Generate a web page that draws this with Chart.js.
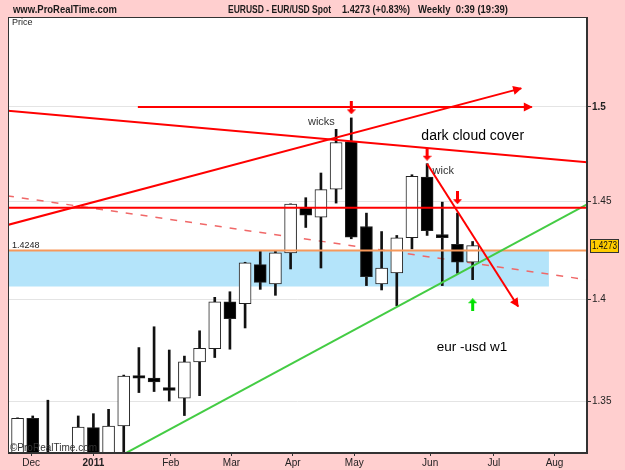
<!DOCTYPE html>
<html>
<head>
<meta charset="utf-8">
<script src="https://cdn.jsdelivr.net/npm/chart.js@4.4.1/dist/chart.umd.min.js"></script>
<style>
  html, body { margin: 0; padding: 0; background: #ffcfcf; }
  #wrap { width: 625px; height: 470px; }
</style>
</head>
<body>
<div id="wrap"><canvas id="chart" width="625" height="470"></canvas></div>
<script>
// weekly EUR/USD candles (index 0 = first week shown)
const opens  = [1.3000, 1.3417, 1.3180, 1.3100, 1.2900, 1.3372, 1.3100, 1.3380, 1.3624, 1.3611, 1.3565,
                1.3514, 1.3691, 1.3755, 1.3988, 1.3979, 1.4176, 1.4078, 1.4236, 1.4468, 1.4419,
                1.4564, 1.4813, 1.4371, 1.4078, 1.4134, 1.4313, 1.4628, 1.4330, 1.4279, 1.4188];
const highs  = [1.3419, 1.3428, 1.3504, 1.3200, 1.3428, 1.3439, 1.3460, 1.3626, 1.3761, 1.3864, 1.3749,
                1.3719, 1.3844, 1.4011, 1.4039, 1.4188, 1.4244, 1.4244, 1.4488, 1.4520, 1.4649,
                1.4880, 1.4941, 1.4440, 1.4345, 1.4325, 1.4640, 1.4698, 1.4497, 1.4440, 1.4294];
const lows   = [1.2950, 1.3050, 1.3000, 1.2860, 1.2850, 1.3000, 1.3000, 1.3100, 1.3541, 1.3546, 1.3500,
                1.3430, 1.3526, 1.3712, 1.3753, 1.3858, 1.4051, 1.4021, 1.4154, 1.4366, 1.4159,
                1.4492, 1.4308, 1.4070, 1.4048, 1.3969, 1.4256, 1.4325, 1.4070, 1.4132, 1.4100];
const closes = [1.3417, 1.3180, 1.3100, 1.2900, 1.3375, 1.3100, 1.3380, 1.3621, 1.3611, 1.3593, 1.3552,
                1.3691, 1.3757, 1.3988, 1.3904, 1.4185, 1.4086, 1.4236, 1.4487, 1.4429, 1.4562,
                1.4810, 1.4316, 1.4115, 1.4159, 1.4313, 1.4631, 1.4350, 1.4313, 1.4188, 1.4273];

// axis ticks
const monthLabels = ['Dec', '2011', 'Feb', 'Mar', 'Apr', 'May', 'Jun', 'Jul', 'Aug'];
const monthPos    = [0.9, 5.0, 10.1, 14.1, 18.15, 22.2, 27.2, 31.4, 35.4];
const priceTicks  = [1.35, 1.4, 1.45, 1.5];

// hand drawn lines, [week index, price]
const upperFan    = [[-0.7, 1.4980], [37.7, 1.4705]];
const risingArrow = [[-0.7, 1.4378], [33.2, 1.5100]];
const topArrow    = [[7.93, 1.5000], [33.9, 1.5000]];
const resistance  = [[-0.7, 1.4468], [37.7, 1.4468]];
const dashedTrend = [[-0.7, 1.4530], [37.7, 1.4098]];
const support     = [[7.07, 1.3248], [37.7, 1.4492]];
const cloudArrow  = [[27.0, 1.4698], [33.0, 1.3965]];
const pivotLevel  = 1.4248;
const zoneLow     = 1.4066;
const zoneEnd     = 35.03;

// little marker arrows
const downMarks = [[22, 1.4995], [27, 1.4748], [29, 1.4520]];
const upMarks   = [[30, 1.3974]];

// notes written on the chart
const noteText = ['wicks', 'dark cloud cover', 'wick', 'eur -usd w1'];
const noteX    = [20.03, 26.62, 27.36, 27.63];
const noteY    = [1.4918, 1.4843, 1.4659, 1.3762];

const FONT = '"Liberation Sans", Arial, sans-serif';
const pts = arr => arr.map(p => ({ x: p[0], y: p[1] }));

function makeArrow(color, up) {
  const c = document.createElement('canvas');
  c.width = 9; c.height = 13;
  const g = c.getContext('2d');
  if (up) { g.translate(0, 13); g.scale(1, -1); }
  g.fillStyle = color;
  g.fillRect(3, 0, 3, 8.5);
  g.beginPath();
  g.moveTo(0, 8); g.lineTo(9, 8); g.lineTo(4.5, 13); g.closePath();
  g.fill();
  return c;
}

const bodies = opens.map((o, i) => ({ x: i, y: [o, closes[i]] }));
const wicks = opens.map((o, i) => ({ x: i, y: [lows[i], highs[i]] }));
const bodyColors = opens.map((o, i) => closes[i] >= o ? '#ffffff' : '#000000');

function line(data, color, width, order, extra) {
  return Object.assign({
    type: 'line', data: pts(data), borderColor: color, borderWidth: width,
    pointRadius: 0, fill: false, order: order, clip: 0, tension: 0
  }, extra || {});
}

const decor = {
  id: 'decor',
  beforeDraw(chart) {
    const { ctx, chartArea: a } = chart;
    ctx.save();
    ctx.fillStyle = '#ffcfcf';
    ctx.fillRect(0, 0, chart.width, chart.height);
    ctx.fillStyle = '#ffffff';
    ctx.fillRect(a.left, a.top, a.right - a.left, a.bottom - a.top);

    ctx.fillStyle = '#1a1a1a';
    ctx.textBaseline = 'middle';
    ctx.font = 'bold 11px ' + FONT;
    ctx.fillText('www.ProRealTime.com', 13, 10, 104);
    ctx.fillText('EURUSD - EUR/USD Spot', 228, 10, 103);
    ctx.fillText('1.4273 (+0.83%)', 342, 10, 68);
    ctx.fillText('Weekly  0:39 (19:39)', 418, 10, 90);

    ctx.font = '9px ' + FONT;
    ctx.fillStyle = '#222';
    ctx.fillText('Price', a.left + 4, a.top + 6);
    ctx.restore();
  },
  afterDatasetsDraw(chart) {
    const { ctx, chartArea: a } = chart;
    const xs = chart.scales.x, ys = chart.scales.y;
    ctx.save();

    // arrow heads at the end of flagged lines
    chart.data.datasets.forEach((ds, i) => {
      if (!ds.arrow) return;
      const pts = chart.getDatasetMeta(i).data;
      const p1 = pts[pts.length - 2], p2 = pts[pts.length - 1];
      const ang = Math.atan2(p2.y - p1.y, p2.x - p1.x);
      ctx.save();
      ctx.translate(p2.x, p2.y);
      ctx.rotate(ang);
      ctx.fillStyle = ds.borderColor;
      ctx.beginPath();
      ctx.moveTo(1, 0); ctx.lineTo(-8, -4.5); ctx.lineTo(-8, 4.5); ctx.closePath();
      ctx.fill();
      ctx.restore();
    });

    // notes
    ctx.fillStyle = '#1a1a1a';
    ctx.textBaseline = 'middle';
    const sizes = [11, 14, 11, 13.5];
    noteText.forEach((t, i) => {
      ctx.font = sizes[i] + 'px ' + FONT;
      ctx.textAlign = i === 0 ? 'center' : 'left';
      ctx.fillStyle = i === 1 || i === 3 ? '#000' : '#333';
      ctx.fillText(t, xs.getPixelForValue(noteX[i]), ys.getPixelForValue(noteY[i]));
    });

    ctx.textAlign = 'left';
    ctx.font = '9px ' + FONT;
    ctx.fillStyle = '#222';
    ctx.fillText(pivotLevel.toFixed(4), a.left + 4, ys.getPixelForValue(pivotLevel) - 5);

    ctx.font = '10px ' + FONT;
    ctx.fillStyle = '#333';
    ctx.fillText('\u00a9ProRealTime.com', a.left + 2, a.bottom - 5);

    // frame
    ctx.strokeStyle = '#333';
    ctx.lineWidth = 1;
    ctx.strokeRect(Math.round(a.left) + 0.5, Math.round(a.top) + 0.5,
                   Math.round(a.right - a.left) - 1, Math.round(a.bottom - a.top) - 1);
    ctx.restore();
  },
  afterDraw(chart) {
    const { ctx, chartArea: a } = chart;
    const last = closes[closes.length - 1];
    const y = Math.round(chart.scales.y.getPixelForValue(last));
    ctx.save();
    ctx.fillStyle = '#ffcc00';
    ctx.strokeStyle = '#333';
    ctx.fillRect(a.right + 3.5, y - 6.5, 28, 13);
    ctx.strokeRect(a.right + 3.5, y - 6.5, 28, 13);
    ctx.fillStyle = '#111';
    ctx.font = '10px ' + FONT;
    ctx.textBaseline = 'middle';
    ctx.textAlign = 'center';
    ctx.fillText(last.toFixed(4), a.right + 17.5, y + 0.5, 25);
    ctx.restore();
  }
};

new Chart(document.getElementById('chart'), {
  type: 'bar',
  data: {
    datasets: [
      line(topArrow, '#ff0000', 2, 0, { arrow: true }),
      line(risingArrow, '#ff0000', 2, 0, { arrow: true }),
      line(cloudArrow, '#ff0000', 2, 0, { arrow: true }),
      line(upperFan, '#ff0000', 2, 0),
      line(resistance, '#ff0000', 2, 0),
      line(support, '#44cc44', 2, 0),
      line([[-0.7, pivotLevel], [37.7, pivotLevel]], '#f7985a', 2, 0),
      {
        type: 'line', data: pts(downMarks), showLine: false, order: 0, clip: 0,
        pointStyle: makeArrow('#ff0000', false), pointRadius: 6
      },
      {
        type: 'line', data: pts(upMarks), showLine: false, order: 0, clip: 0,
        pointStyle: makeArrow('#00e000', true), pointRadius: 6
      },
      {
        type: 'bar', data: bodies, backgroundColor: bodyColors, borderColor: '#222',
        borderWidth: 1, borderSkipped: false, barThickness: 12, grouped: false, order: 2, clip: 0
      },
      {
        type: 'bar', data: wicks, backgroundColor: '#111', borderWidth: 0,
        barThickness: 2, grouped: false, order: 3, clip: 0
      },
      line(dashedTrend, '#f06868', 1.5, 4, { borderDash: [7, 8] }),
      line([[-0.7, pivotLevel], [zoneEnd, pivotLevel]], 'rgba(0,0,0,0)', 0, 6,
           { fill: '+1', backgroundColor: '#b4e4fa' }),
      line([[-0.7, zoneLow], [zoneEnd, zoneLow]], 'rgba(0,0,0,0)', 0, 6)
    ]
  },
  options: {
    responsive: false,
    animation: false,
    devicePixelRatio: 1,
    layout: { padding: { left: 8, top: 17, right: 0, bottom: 0 } },
    plugins: { legend: { display: false }, tooltip: { enabled: false } },
    scales: {
      x: {
        type: 'linear', min: -0.63, max: 37.54, offset: false,
        afterBuildTicks: s => { s.ticks = monthPos.map(v => ({ value: v })); },
        afterFit: s => { s.height = 17; },
        grid: { drawOnChartArea: false, offset: false, tickLength: 3, color: '#333' },
        border: { color: '#333' },
        ticks: {
          autoSkip: false, maxRotation: 0, padding: 1, color: '#222',
          callback: (v, i) => monthLabels[i],
          font: c => ({ family: FONT, size: 10, weight: c.index === 1 ? 'bold' : 'normal' })
        }
      },
      y: {
        type: 'logarithmic', position: 'right', min: 1.3251, max: 1.5491,
        afterBuildTicks: s => { s.ticks = priceTicks.map(v => ({ value: v })); },
        afterFit: s => { s.width = 38; },
        grid: { color: '#e4e4e4', tickColor: '#333', tickLength: 4 },
        border: { color: '#333' },
        ticks: {
          padding: 1, color: '#222',
          callback: v => String(v),
          font: c => ({ family: FONT, size: 10, weight: c.tick && c.tick.value === 1.5 ? 'bold' : 'normal' })
        }
      }
    }
  },
  plugins: [decor]
});
</script>
</body>
</html>
